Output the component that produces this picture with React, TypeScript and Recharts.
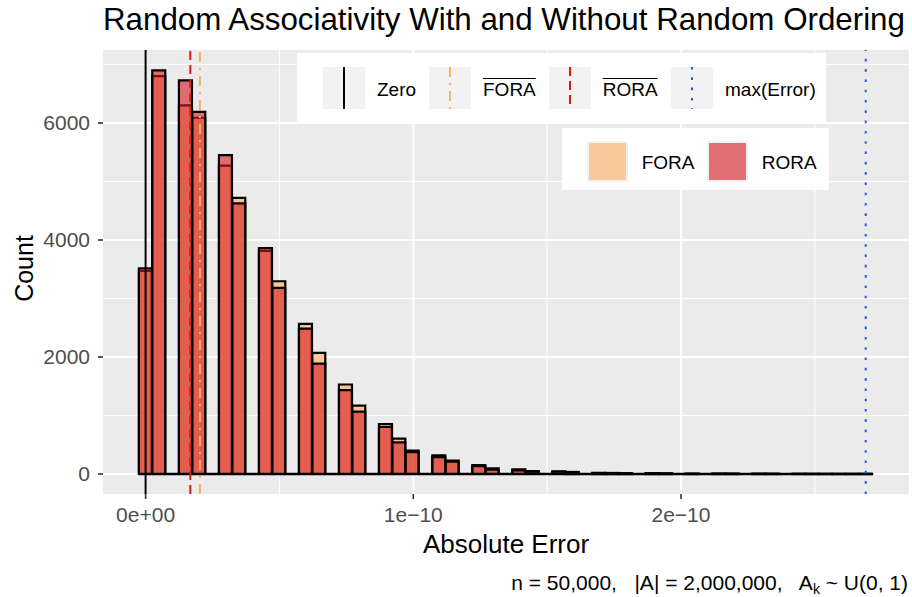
import { ComposedChart, Bar, XAxis, YAxis, CartesianGrid, ReferenceLine } from "recharts"

// histogram counts per bin (bin 0 is centred on zero, the last one holds max(Error))
const foraCounts = [
  3470, 6800, 0, 6300, 6090, 0, 5270, 4720, 0, 3815, 3295, 0, 2565, 2070, 0,
  1530, 1170, 0, 855, 605, 400, 0, 320, 230, 0, 150, 95, 0, 80, 50, 0, 45, 35,
  0, 20, 18, 12, 0, 14, 10, 0, 5, 0, 6, 5, 0, 4, 3, 0, 2, 2, 1, 1, 1, 1,
]
const roraCounts = [
  3515, 6900, 0, 6730, 6190, 0, 5450, 4625, 0, 3860, 3180, 0, 2485, 1885, 0,
  1435, 1065, 0, 805, 540, 375, 0, 290, 210, 0, 135, 75, 0, 60, 40, 0, 38, 28,
  0, 15, 14, 10, 0, 10, 8, 0, 4, 0, 5, 4, 0, 3, 3, 0, 2, 1, 1, 1, 1, 1,
]

const maxError = 2.69e-10
const foraMean = 2.03e-11
const roraMean = 1.67e-11

const xTicks = [0, 1e-10, 2e-10]
const xTickLabels = ["0e+00", "1e\u221210", "2e\u221210"]
const xMinor = [0.5e-10, 1.5e-10, 2.5e-10]
const yTicks = [0, 2000, 4000, 6000]
const yMinor = [1000, 3000, 5000, 7000]

const binWidth = maxError / (foraCounts.length - 1)
const data = foraCounts.map((fora, i) => ({ x: i * binWidth, fora, rora: roraCounts[i] }))

const FONT = "'Liberation Sans', Arial, Helvetica, sans-serif"
const FORA_COLOR = "#FDAE61"
const RORA_COLOR = "#D7191C"
const MAX_COLOR = "#1F55F2"

const lineKeys = [
  { label: "Zero", color: "#000000", dash: undefined, bar: false, left: 322.7, text: 377 },
  { label: "FORA", color: FORA_COLOR, dash: "10 6 2 6", bar: true, left: 428.8, text: 483 },
  { label: "RORA", color: RORA_COLOR, dash: "9 5", bar: true, left: 549, text: 602.7 },
  { label: "max(Error)", color: MAX_COLOR, dash: "2.6 7.7", bar: false, left: 671, text: 725 },
]

const fillKeys = [
  { label: "FORA", color: "rgba(253,174,97,0.6)", left: 587.3, text: 641.7 },
  { label: "RORA", color: "rgba(215,25,28,0.6)", left: 707.3, text: 761.7 },
]

const abs = (left: number, top: number, extra: object = {}) => ({
  position: "absolute" as const,
  left,
  top,
  ...extra,
})

export default function App() {
  return (
    <div style={{ position: "absolute", left: 0, top: 0, width: 912, height: 597, background: "#fff", fontFamily: FONT }}>
      <ComposedChart
        width={912}
        height={597}
        data={data}
        margin={{ top: 50, right: 3, bottom: 0, left: 0 }}
        barGap={-13}
        barCategoryGap={0}
      >
        <CartesianGrid fill="#EBEBEB" stroke="#FFFFFF" strokeWidth={1} horizontalValues={yMinor} verticalValues={xMinor} />
        <CartesianGrid stroke="#FFFFFF" strokeWidth={2} horizontalValues={yTicks} verticalValues={xTicks} />
        <XAxis
          dataKey="x"
          type="number"
          domain={[-1.591e-11, 2.8517e-10]}
          allowDataOverflow
          ticks={xTicks}
          interval={0}
          tickFormatter={(v: number) => xTickLabels[xTicks.indexOf(v)] ?? ""}
          height={103}
          axisLine={false}
          tickLine={{ stroke: "#333333", strokeWidth: 1.6 }}
          tickSize={5}
          tickMargin={8}
          tick={{ fill: "#4D4D4D", fontSize: 21 }}
        />
        <YAxis
          type="number"
          domain={[-342, 7248]}
          allowDataOverflow
          ticks={yTicks}
          interval={0}
          width={103}
          axisLine={false}
          tickLine={{ stroke: "#333333", strokeWidth: 1.6 }}
          tickSize={5}
          tickMargin={8}
          tick={{ fill: "#4D4D4D", fontSize: 21 }}
        />
        <Bar dataKey="fora" fill={FORA_COLOR} fillOpacity={0.6} stroke="#000" strokeWidth={2.2} isAnimationActive={false} />
        <Bar dataKey="rora" fill={RORA_COLOR} fillOpacity={0.6} stroke="#000" strokeWidth={2.2} isAnimationActive={false} />
        <ReferenceLine
          segment={[
            { x: data[0].x - binWidth / 2, y: 0 },
            { x: data[data.length - 1].x + binWidth / 2, y: 0 },
          ]}
          stroke="#000"
          strokeWidth={2.6}
        />
        <ReferenceLine x={0} stroke="#000" strokeWidth={2} />
        <ReferenceLine x={foraMean} stroke={FORA_COLOR} strokeWidth={2} strokeDasharray="10 6 2 6" />
        <ReferenceLine x={roraMean} stroke={RORA_COLOR} strokeWidth={2} strokeDasharray="9 5" />
        <ReferenceLine x={maxError} stroke={MAX_COLOR} strokeWidth={2} strokeDasharray="2.6 7.7" />
      </ComposedChart>

      <div style={abs(103, 4, { fontSize: 31.3, lineHeight: "31px", whiteSpace: "nowrap", color: "#000" })}>
        Random Associativity With and Without Random Ordering
      </div>

      <div style={abs(406, 530.5, { width: 200, textAlign: "center", fontSize: 26, lineHeight: "26px", whiteSpace: "nowrap" })}>
        Absolute Error
      </div>
      <div
        style={abs(-75.7, 255.5, {
          width: 200,
          textAlign: "center",
          fontSize: 25,
          lineHeight: "25px",
          transform: "rotate(-90deg)",
          transformOrigin: "center",
        })}
      >
        Count
      </div>

      <div style={abs(0, 572.2, { width: 908, textAlign: "right", fontSize: 21, lineHeight: "21px", whiteSpace: "pre" })}>
        {"n = 50,000,   |A| = 2,000,000,   A"}
        <sub style={{ fontSize: 14, verticalAlign: "-4px" }}>k</sub>
        {" ~ U(0, 1)"}
      </div>

      <div style={abs(297, 53.3, { width: 528.5, height: 68.4, background: "#fff" })} />
      {lineKeys.map((k) => (
        <div key={k.label}>
          <svg style={abs(k.left, 66.7)} width={42} height={42}>
            <rect width={42} height={42} fill="#F2F2F2" />
            <line x1={21} x2={21} y1={0} y2={42} stroke={k.color} strokeWidth={2} strokeDasharray={k.dash} />
          </svg>
          <div
            style={abs(k.text, 79.9, {
              fontSize: 19,
              lineHeight: "19px",
              whiteSpace: "nowrap",
              textDecoration: k.bar ? "overline" : "none",
            })}
          >
            {k.label}
          </div>
        </div>
      ))}

      <div style={abs(561.7, 128.3, { width: 267.3, height: 61.7, background: "#fff" })} />
      {fillKeys.map((k) => (
        <div key={k.label}>
          <svg style={abs(k.left, 141)} width={41} height={41}>
            <rect width={41} height={41} fill="#F2F2F2" />
            <rect x={2} y={2} width={37} height={37} fill={k.color} />
          </svg>
          <div style={abs(k.text, 153.2, { fontSize: 19, lineHeight: "19px", whiteSpace: "nowrap" })}>{k.label}</div>
        </div>
      ))}
    </div>
  )
}
